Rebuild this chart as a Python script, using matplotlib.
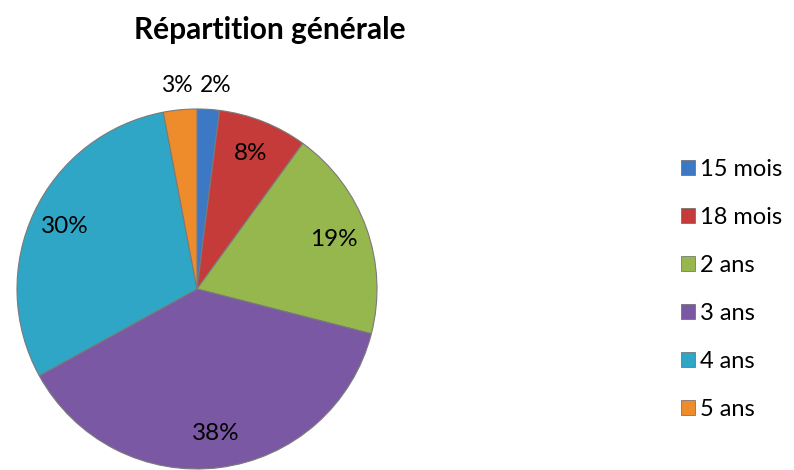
import matplotlib
matplotlib.use("Agg")
import matplotlib.pyplot as plt
from matplotlib.patches import Patch
import numpy as np

categories = ["15 mois", "18 mois", "2 ans", "3 ans", "4 ans", "5 ans"]
values = [2, 8, 19, 38, 30, 3]
pct_labels = ["2%", "8%", "19%", "38%", "30%", "3%"]
colors = ["#3D78C4", "#C53B3A", "#95B74D", "#7A58A4", "#2FA6C6", "#EE8B2A"]
title = "Répartition générale"

plt.rcParams['font.family'] = ['Lato', 'DejaVu Sans']

fig = plt.figure(figsize=(7.94, 4.70), dpi=100)
fig.patch.set_facecolor("white")

W, H = 794, 470
cx, cy, r = 197, 470 - 289, 180
ax = fig.add_axes([(cx - r) / W, (cy - r) / H, 2 * r / W, 2 * r / H])

wedges, _ = ax.pie(values, colors=colors, startangle=90, counterclock=False,
                   radius=1, wedgeprops=dict(edgecolor="#7a7a7a", linewidth=0.8))
ax.set_xlim(-1, 1)
ax.set_ylim(-1, 1)
ax.set_aspect("equal")
ax.axis("off")

total = sum(values)
start = 90.0
for v, lab in zip(values, pct_labels):
    span = v / total * 360
    mid = np.deg2rad(start - span / 2)
    start -= span
    if v / total < 0.05:
        d = 1.135
        x, y = d * np.cos(mid), d * np.sin(mid)
        dx = 4 if x > 0 else -1
        ax.annotate(lab, (x, y), xytext=(dx, 0), textcoords="offset points",
                    ha="center", va="center", fontsize=16.5, annotation_clip=False)
    else:
        d = 0.81
        ax.text(d * np.cos(mid), d * np.sin(mid), lab, ha="center", va="center",
                fontsize=17.5, color="black", clip_on=False)

fig.text(270 / W, 1 - 30 / H, title, ha="center", va="center",
         fontsize=21.5, fontweight="bold")

handles = [Patch(facecolor=c, edgecolor="#666666", linewidth=0.5) for c in colors]
fig.legend(handles, categories, loc="upper left",
           bbox_to_anchor=(681 / W, 1 - 159 / H), frameon=False,
           fontsize=17, handlelength=0.6, handleheight=0.6, handletextpad=0.2,
           labelspacing=1.14, borderpad=0, borderaxespad=0)

fig.savefig("out.png", dpi=100)
